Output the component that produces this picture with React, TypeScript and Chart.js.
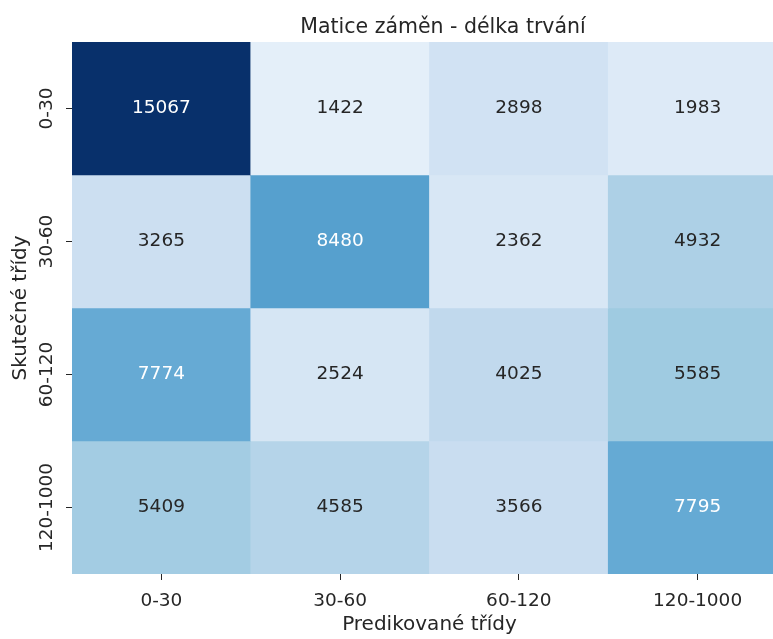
import { useEffect, useRef } from 'react';
import { Chart, registerables } from 'chart.js';

Chart.register(...registerables);

// ---- data ----
const predictedLabels = ['0-30', '30-60', '60-120', '120-1000'];
const actualLabels = ['0-30', '30-60', '60-120', '120-1000'];
const row0_30 = [15067, 1422, 2898, 1983];
const row30_60 = [3265, 8480, 2362, 4932];
const row60_120 = [7774, 2524, 4025, 5585];
const row120_1000 = [5409, 4585, 3566, 7795];
const matrix = [row0_30, row30_60, row60_120, row120_1000];

const titleText = 'Matice záměn - délka trvání';
const xTitle = 'Predikované třídy';
const yTitle = 'Skutečné třídy';

// ---- colour map (matplotlib "Blues") ----
const BLUES = [
  [247, 251, 255], [222, 235, 247], [198, 219, 239], [158, 202, 225],
  [107, 174, 214], [66, 146, 198], [33, 113, 181], [8, 81, 156], [8, 48, 107],
];
const vmin = 0;
const vmax = Math.max(...matrix.flat());

function bluesRgb(v: number): number[] {
  let t = (v - vmin) / (vmax - vmin);
  t = Math.max(0, Math.min(1, t));
  const p = t * 8;
  const i = Math.min(7, Math.floor(p));
  const f = p - i;
  const a = BLUES[i], b = BLUES[i + 1];
  return [0, 1, 2].map((k) => a[k] + (b[k] - a[k]) * f);
}
function rgbStr(c: number[]) {
  return `rgb(${Math.round(c[0])},${Math.round(c[1])},${Math.round(c[2])})`;
}
function luminance(c: number[]) {
  const l = c.map((x) => {
    const s = x / 255;
    return s <= 0.03928 ? s / 12.92 : Math.pow((s + 0.055) / 1.055, 2.4);
  });
  return 0.2126 * l[0] + 0.7152 * l[1] + 0.0722 * l[2];
}
function textColor(v: number) {
  return luminance(bluesRgb(v)) > 0.408 ? '#262626' : '#ffffff';
}

const FONT = '"DejaVu Sans", sans-serif';
const TEXT = '#262626';

const cellTextPlugin = {
  id: 'cellText',
  afterDatasetsDraw(chart: any) {
    const ctx = chart.ctx;
    ctx.save();
    ctx.font = `18.5px ${FONT}`;
    ctx.textAlign = 'center';
    ctx.textBaseline = 'middle';
    chart.data.datasets.forEach((_ds: any, di: number) => {
      const meta = chart.getDatasetMeta(di);
      meta.data.forEach((el: any, j: number) => {
        const v = matrix[di][j];
        const { x, y, base } = el.getProps(['x', 'y', 'base'], true);
        ctx.fillStyle = textColor(v);
        ctx.fillText(String(v), x, (y + base) / 2);
      });
    });
    ctx.restore();
  },
};

const titlePlugin = {
  id: 'customTitle',
  afterDraw(chart: any) {
    const ctx = chart.ctx;
    ctx.save();
    ctx.font = `20.5px ${FONT}`;
    ctx.fillStyle = TEXT;
    ctx.textAlign = 'center';
    ctx.textBaseline = 'alphabetic';
    ctx.fillText(titleText, 443, 33);
    ctx.restore();
  },
};

export default function App() {
  const ref = useRef<HTMLCanvasElement>(null);

  useEffect(() => {
    if (!ref.current) return;
    const datasets = matrix.map((row, i) => ({
      label: actualLabels[i],
      data: row.map((_v, j) => ({ x: predictedLabels[j], y: [i - 0.5, i + 0.5] })),
      backgroundColor: row.map((v) => rgbStr(bluesRgb(v))),
      borderWidth: 0,
      grouped: false,
      barPercentage: 1,
      categoryPercentage: 1,
    }));
    const chart = new Chart(ref.current, {
      type: 'bar',
      data: { labels: predictedLabels, datasets: datasets as any },
      options: {
        animation: false,
        responsive: false,
        devicePixelRatio: 1,
        layout: { padding: { top: 42, left: 0, right: 0, bottom: 0 } },
        plugins: {
          legend: { display: false },
          tooltip: { enabled: false },
          title: { display: false },
        },
        scales: {
          x: {
            type: 'category',
            offset: true,
            grid: { drawOnChartArea: false, drawTicks: true, tickLength: 6, color: TEXT, offset: false },
            border: { display: false },
            ticks: { color: TEXT, font: { family: FONT, size: 18.5 }, padding: 10, maxRotation: 0, minRotation: 0 },
            title: { display: true, text: xTitle, color: TEXT, font: { family: FONT, size: 20 }, padding: { top: 0, bottom: 2 } },
            afterFit: (s: any) => { s.height = 65; },
          },
          y: {
            type: 'linear',
            min: -0.5,
            max: 3.5,
            reverse: true,
            grid: { drawOnChartArea: false, drawTicks: true, tickLength: 6, color: TEXT },
            border: { display: false },
            afterBuildTicks: (s: any) => { s.ticks = actualLabels.map((_l, i) => ({ value: i })); },
            ticks: {
              color: TEXT,
              font: { family: FONT, size: 18.5 },
              minRotation: 90,
              maxRotation: 90,
              crossAlign: 'center',
              padding: -25.5,
              callback: (v: any) => actualLabels[v as number],
            },
            title: { display: true, text: yTitle, color: TEXT, font: { family: FONT, size: 20 }, padding: { top: 9, bottom: 0 } },
            afterFit: (s: any) => { s.width = 72; },
          },
        },
      } as any,
      plugins: [cellTextPlugin, titlePlugin],
    });
    return () => chart.destroy();
  }, []);

  return (
    <div style={{ position: 'absolute', left: 0, top: 0, width: 773, height: 639, overflow: 'hidden', background: '#fff' }}>
      <canvas ref={ref} width={787} height={639} style={{ display: 'block' }} />
    </div>
  );
}
